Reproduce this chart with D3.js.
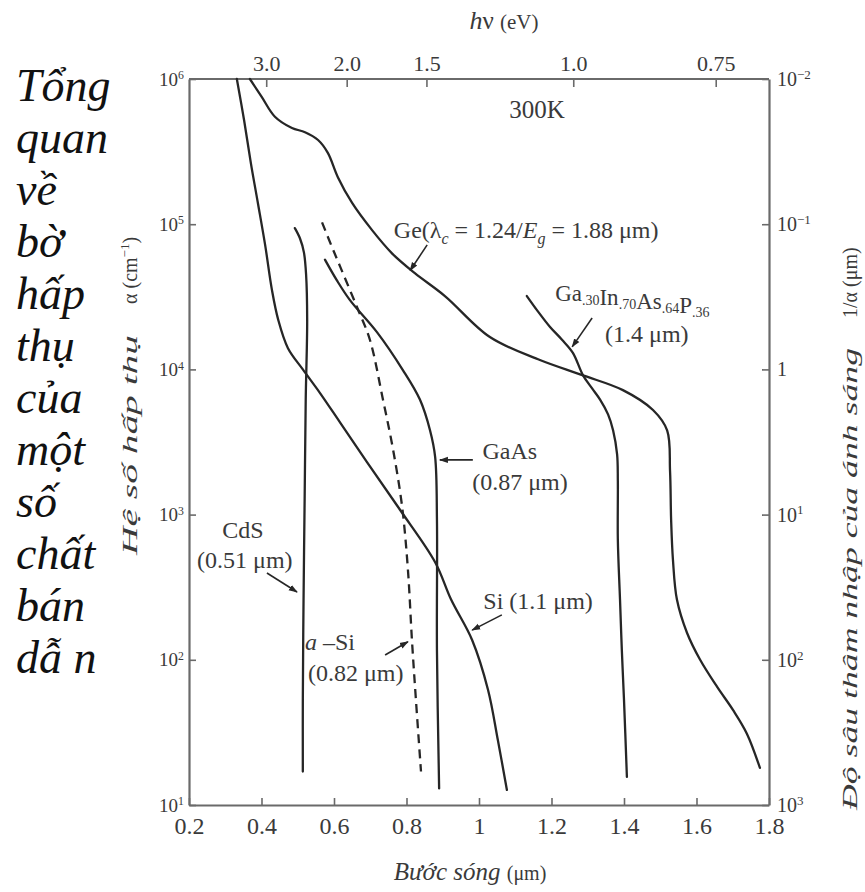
<!DOCTYPE html>
<html><head><meta charset="utf-8">
<script src="https://cdn.jsdelivr.net/npm/d3@7"></script>
<style>body{margin:0;background:#fff}svg{display:block}</style>
</head><body><svg id="c" width="865" height="892"></svg>
<script>
// ---------- data ----------
const xTicks=[0.2,0.4,0.6,0.8,1.0,1.2,1.4,1.6,1.8];
const xTickLabels=["0.2","0.4","0.6","0.8","1","1.2","1.4","1.6","1.8"];
const yTicks=[1e1,1e2,1e3,1e4,1e5,1e6];
const yTickExp=["1","2","3","4","5","6"];
const rTicks=[1e-2,1e-1,1,1e1,1e2,1e3];
const rTickBase=["10","10","1","10","10","10"];
const rTickExp=["−2","−1","","1","2","3"];
const topTickLambda=[0.413,0.635,0.855,1.26,1.653];
const topTickLabels=["3.0","2.0","1.5","1.0","0.75"];
const sideText=["Tổng","quan","về","bờ","hấp","thụ","của","một","số","chất","bán","dẫ n"];

// [wavelength um, alpha cm^-1]
const Ge=[[0.368,1.0e6],[0.401,7.5e5],[0.437,5.5e5],[0.484,4.6e5],[0.520,4.3e5],[0.556,3.8e5],[0.583,3.1e5],[0.611,2.1e5],[0.650,1.4e5],[0.705,9.1e4],[0.760,6.3e4],[0.823,4.6e4],[0.906,3.2e4],[1.030,1.67e4],[1.168,1.16e4],[1.287,9.1e3],[1.397,7.2e3],[1.480,5.25e3],[1.519,3.8e3],[1.527,2.0e3],[1.530,920],[1.535,490],[1.546,260],[1.574,153],[1.610,100],[1.657,65],[1.701,45],[1.739,31],[1.775,18]];
const Si=[[0.332,1.0e6],[0.352,5.2e5],[0.371,2.6e5],[0.390,1.4e5],[0.410,7.2e4],[0.429,3.5e4],[0.446,2.2e4],[0.473,1.4e4],[0.514,1.0e4],[0.561,6.9e3],[0.617,4.3e3],[0.691,2.3e3],[0.782,1.08e3],[0.879,470],[0.923,260],[0.981,137],[1.025,62],[1.052,28],[1.077,12.7]];
const CdS=[[0.492,9.4e4],[0.506,8.0e4],[0.517,6.4e4],[0.523,4.5e4],[0.526,2.2e4],[0.522,6.2e3],[0.519,1.26e3],[0.516,260],[0.514,53],[0.514,17]];
const aSi=[[0.567,1.03e5],[0.592,7.2e4],[0.617,5.1e4],[0.663,2.7e4],[0.699,1.6e4],[0.735,6.2e3],[0.763,2.8e3],[0.788,1.13e3],[0.804,415],[0.815,137],[0.826,53],[0.840,17]];
const GaAs=[[0.575,5.7e4],[0.608,4.1e4],[0.644,3.0e4],[0.719,1.8e4],[0.790,9.9e3],[0.837,6.2e3],[0.865,3.8e3],[0.879,2.5e3],[0.884,920],[0.884,117],[0.890,13]];
const GaInAsP=[[1.132,3.2e4],[1.163,2.5e4],[1.196,1.96e4],[1.229,1.6e4],[1.259,1.3e4],[1.287,9.1e3],[1.312,7.4e3],[1.334,6.2e3],[1.356,4.9e3],[1.370,3.8e3],[1.381,2.6e3],[1.383,1.7e3],[1.383,670],[1.389,260],[1.394,117],[1.400,53],[1.408,15.6]];

// arrows: [fromLambda, fromAlpha, toLambda, toAlpha]
const arrows=[[0.857,7.2e4,0.810,4.8e4],[1.312,2.26e4,1.257,1.43e4],[0.983,2.38e3,0.892,2.38e3],[0.415,396,0.498,293],[1.063,204,0.981,160],[0.741,108,0.804,133]];

// ---------- layout ----------
const svg=d3.select("#c");
const X0=189,X1=769,Y0=79,Y1=805;
const x=d3.scaleLinear().domain([0.2,1.8]).range([X0,X1]);
const y=d3.scaleLog().domain([10,1e6]).range([Y1,Y0]);
const yR=d3.scaleLog().domain([1e-2,1e3]).range([Y0,Y1]);
const SERIF="'Liberation Serif','Times New Roman',serif";
const AX="#6a6a6a", INK="#262626", TXT="#3a3a3a";

svg.append("defs").append("marker").attr("id","ah").attr("viewBox","0 0 10 10")
  .attr("refX",9).attr("refY",5).attr("markerWidth",9).attr("markerHeight",9)
  .attr("markerUnits","userSpaceOnUse").attr("orient","auto")
  .append("path").attr("d","M0,1.5L10,5L0,8.5Z").attr("fill",INK);

function styleAxis(g,fs){
  g.select(".domain").attr("stroke",AX).attr("stroke-width",2.2);
  g.selectAll(".tick line").attr("stroke",AX).attr("stroke-width",1.6);
  g.selectAll(".tick text").attr("font-family",SERIF).attr("font-size",fs).attr("fill",TXT);
}
// bottom
const gB=svg.append("g").attr("transform",`translate(0,${Y1})`)
  .call(d3.axisBottom(x).tickValues(xTicks).tickFormat((d,i)=>xTickLabels[i]).tickSizeInner(-7).tickSizeOuter(0).tickPadding(12));
styleAxis(gB,24);
// top
const gT=svg.append("g").attr("transform",`translate(0,${Y0})`)
  .call(d3.axisTop(x).tickValues(topTickLambda).tickFormat((d,i)=>topTickLabels[i]).tickSizeInner(-8).tickSizeOuter(0).tickPadding(8));
styleAxis(gT,22);
gT.select(".domain").attr("d",`M${X0},0H${X1}`);
// left
const gL=svg.append("g").attr("transform",`translate(${X0},0)`)
  .call(d3.axisLeft(y).tickValues(yTicks).tickSizeInner(-7).tickSizeOuter(0).tickPadding(5));
styleAxis(gL,19);
gL.selectAll(".tick text").each(function(d,i){
  const t=d3.select(this); t.text(null);
  t.append("tspan").text("10");
  t.append("tspan").attr("dy","-0.55em").attr("font-size","0.62em").text(yTickExp[i]);
});
// right
const gR=svg.append("g").attr("transform",`translate(${X1},0)`)
  .call(d3.axisRight(yR).tickValues(rTicks).tickSizeInner(-7).tickSizeOuter(0).tickPadding(8));
styleAxis(gR,20);
gR.selectAll(".tick text").each(function(d,i){
  const t=d3.select(this); t.text(null);
  t.append("tspan").text(rTickBase[i]);
  if(rTickExp[i]) t.append("tspan").attr("dy","-0.55em").attr("font-size","0.65em").text(rTickExp[i]);
});

// ---------- curves ----------
const line=d3.line().x(d=>x(d[0])).y(d=>y(d[1])).curve(d3.curveCatmullRom.alpha(0.5));
const curves=svg.append("g").attr("fill","none").attr("stroke",INK).attr("stroke-width",2.3).attr("stroke-linecap","round");
[Ge,Si,CdS,GaAs,GaInAsP].forEach(s=>curves.append("path").attr("d",line(s)));
curves.append("path").attr("d",line(aSi)).attr("stroke-dasharray","9,6").attr("stroke-linecap","butt");

// arrows
svg.append("g").selectAll("line").data(arrows).join("line")
  .attr("x1",d=>x(d[0])).attr("y1",d=>y(d[1])).attr("x2",d=>x(d[2])).attr("y2",d=>y(d[3]))
  .attr("stroke",INK).attr("stroke-width",1.6).attr("marker-end","url(#ah)");

// ---------- labels ----------
const lab=svg.append("g").attr("font-family",SERIF).attr("fill",TXT).attr("font-size",24);
function txt(l,a,anchor){return lab.append("text").attr("x",x(l)).attr("y",y(a)).attr("text-anchor",anchor||"start");}
txt(1.160,5.4e5,"middle").attr("font-size",25).text("300K");
{ const t=txt(0.765,8.0e4);
  t.append("tspan").text("Ge(λ");
  t.append("tspan").attr("font-size",16).attr("font-style","italic").attr("dy",6).text("c");
  t.append("tspan").attr("dy",-6).text(" = 1.24/");
  t.append("tspan").attr("font-style","italic").text("E");
  t.append("tspan").attr("font-size",16).attr("font-style","italic").attr("dy",6).text("g");
  t.append("tspan").attr("dy",-6).text(" = 1.88 μm)"); }
{ const t=txt(1.210,2.95e4).attr("font-size",23);
  [["Ga",".30"],["In",".70"],["As",".64"],["P",".36"]].forEach(p=>{
    t.append("tspan").text(p[0]);
    t.append("tspan").attr("font-size",14).attr("dy",4).text(p[1]);
    t.append("tspan").attr("dy",-4).text("");
  }); }
txt(1.463,1.55e4,"middle").text("(1.4 μm)");
txt(1.085,2.4e3,"middle").text("GaAs");
txt(1.113,1.48e3,"middle").text("(0.87 μm)");
txt(0.349,690,"middle").text("CdS");
txt(0.354,429,"middle").text("(0.51 μm)");
txt(1.163,225,"middle").text("Si (1.1 μm)");
{ const t=txt(0.520,117);
  t.append("tspan").attr("font-style","italic").text("a");
  t.append("tspan").text(" –Si"); }
txt(0.528,72).text("(0.82 μm)");

// axis titles
{ const t=svg.append("text").attr("x",504).attr("y",29).attr("text-anchor","middle").attr("font-family",SERIF).attr("fill",TXT);
  t.append("tspan").attr("font-style","italic").attr("font-size",26).text("h");
  t.append("tspan").attr("font-size",25).text("ν ");
  t.append("tspan").attr("font-size",21).text("(eV)"); }
{ const t=svg.append("text").attr("x",470).attr("y",880).attr("text-anchor","middle").attr("font-family",SERIF).attr("fill",TXT);
  t.append("tspan").attr("font-style","italic").attr("font-size",25).text("Bước sóng ");
  t.append("tspan").attr("font-size",20).text("(μm)"); }
svg.append("text").attr("transform","translate(137,555) rotate(-90)").attr("font-family",SERIF).attr("fill",TXT)
  .attr("font-style","italic").attr("font-size",21).attr("textLength",220).attr("lengthAdjust","spacingAndGlyphs").text("Hệ số hấp thụ");
{ const t=svg.append("text").attr("transform","translate(137,304) rotate(-90)").attr("font-family",SERIF).attr("fill",TXT).attr("font-size",20);
  t.append("tspan").text("α (cm");
  t.append("tspan").attr("font-size",13).attr("dy",-8).text("−1");
  t.append("tspan").attr("dy",8).text(")"); }
svg.append("text").attr("transform","translate(857,810) rotate(-90)").attr("font-family",SERIF).attr("fill",TXT)
  .attr("font-style","italic").attr("font-size",22).attr("textLength",462).attr("lengthAdjust","spacingAndGlyphs").text("Độ sâu thâm nhập của ánh sáng");
{ const t=svg.append("text").attr("transform","translate(857,318) rotate(-90)").attr("font-family",SERIF).attr("fill",TXT).attr("font-size",20);
  t.append("tspan").text("1/α (μm)"); }

// side text
svg.append("g").attr("font-family",SERIF).attr("font-style","italic").attr("font-size",46).attr("fill","#111")
  .selectAll("text").data(sideText).join("text")
  .attr("x",16).attr("y",(d,i)=>101+i*52).text(d=>d);
</script></body></html>
